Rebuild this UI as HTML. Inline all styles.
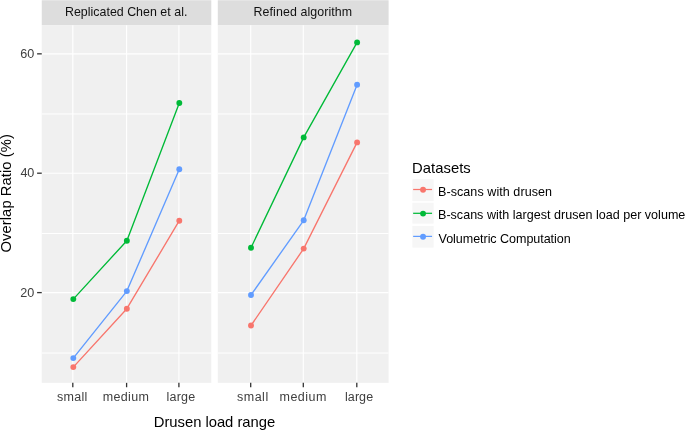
<!DOCTYPE html>
<html><head><meta charset="utf-8"><title>Overlap Ratio</title>
<style>html,body{margin:0;padding:0;background:#fff;overflow:hidden}svg{display:block}text{font-family:"Liberation Sans",Arial,sans-serif;white-space:pre}</style></head><body>
<svg width="685" height="430" viewBox="0 0 685 430">
<rect x="0" y="0" width="685" height="430" fill="#fff"/>
<rect x="41.75" y="0.25" width="169.55" height="25.05" fill="#DDDDDD"/>
<rect x="41.75" y="25.3" width="169.55" height="357.55" fill="#F0F0F0"/>
<line x1="41.75" x2="211.3" y1="353.0" y2="353.0" stroke="#fff" stroke-width="1.0"/>
<line x1="41.75" x2="211.3" y1="233.5" y2="233.5" stroke="#fff" stroke-width="1.0"/>
<line x1="41.75" x2="211.3" y1="113.95" y2="113.95" stroke="#fff" stroke-width="1.0"/>
<line x1="41.75" x2="211.3" y1="292.65" y2="292.65" stroke="#fff" stroke-width="1.15"/>
<line x1="41.75" x2="211.3" y1="173.25" y2="173.25" stroke="#fff" stroke-width="1.15"/>
<line x1="41.75" x2="211.3" y1="53.9" y2="53.9" stroke="#fff" stroke-width="1.15"/>
<line x1="72.80" x2="72.80" y1="25.3" y2="382.85" stroke="#fff" stroke-width="1.15"/>
<line x1="72.80" x2="72.80" y1="382.85" y2="387.25" stroke="#333" stroke-width="1.3"/>
<line x1="126.60" x2="126.60" y1="25.3" y2="382.85" stroke="#fff" stroke-width="1.15"/>
<line x1="126.60" x2="126.60" y1="382.85" y2="387.25" stroke="#333" stroke-width="1.3"/>
<line x1="178.90" x2="178.90" y1="25.3" y2="382.85" stroke="#fff" stroke-width="1.15"/>
<line x1="178.90" x2="178.90" y1="382.85" y2="387.25" stroke="#333" stroke-width="1.3"/>
<polyline points="73.30,367.10 126.85,308.70 179.30,220.70" fill="none" stroke="#F8766D" stroke-width="1.35" stroke-linejoin="round"/>
<polyline points="73.30,299.10 126.85,240.70 179.30,103.00" fill="none" stroke="#00BA38" stroke-width="1.35" stroke-linejoin="round"/>
<polyline points="73.30,358.10 126.85,291.10 179.30,169.20" fill="none" stroke="#619CFF" stroke-width="1.35" stroke-linejoin="round"/>
<circle cx="73.30" cy="367.10" r="2.95" fill="#F8766D"/>
<circle cx="126.85" cy="308.70" r="2.95" fill="#F8766D"/>
<circle cx="179.30" cy="220.70" r="2.95" fill="#F8766D"/>
<circle cx="73.30" cy="299.10" r="2.95" fill="#00BA38"/>
<circle cx="126.85" cy="240.70" r="2.95" fill="#00BA38"/>
<circle cx="179.30" cy="103.00" r="2.95" fill="#00BA38"/>
<circle cx="73.30" cy="358.10" r="2.95" fill="#619CFF"/>
<circle cx="126.85" cy="291.10" r="2.95" fill="#619CFF"/>
<circle cx="179.30" cy="169.20" r="2.95" fill="#619CFF"/>
<rect x="217.8" y="0.25" width="170.80" height="25.05" fill="#DDDDDD"/>
<rect x="217.8" y="25.3" width="170.80" height="357.55" fill="#F0F0F0"/>
<line x1="217.8" x2="388.6" y1="353.0" y2="353.0" stroke="#fff" stroke-width="1.0"/>
<line x1="217.8" x2="388.6" y1="233.5" y2="233.5" stroke="#fff" stroke-width="1.0"/>
<line x1="217.8" x2="388.6" y1="113.95" y2="113.95" stroke="#fff" stroke-width="1.0"/>
<line x1="217.8" x2="388.6" y1="292.65" y2="292.65" stroke="#fff" stroke-width="1.15"/>
<line x1="217.8" x2="388.6" y1="173.25" y2="173.25" stroke="#fff" stroke-width="1.15"/>
<line x1="217.8" x2="388.6" y1="53.9" y2="53.9" stroke="#fff" stroke-width="1.15"/>
<line x1="250.70" x2="250.70" y1="25.3" y2="382.85" stroke="#fff" stroke-width="1.15"/>
<line x1="250.70" x2="250.70" y1="382.85" y2="387.25" stroke="#333" stroke-width="1.3"/>
<line x1="303.30" x2="303.30" y1="25.3" y2="382.85" stroke="#fff" stroke-width="1.15"/>
<line x1="303.30" x2="303.30" y1="382.85" y2="387.25" stroke="#333" stroke-width="1.3"/>
<line x1="356.80" x2="356.80" y1="25.3" y2="382.85" stroke="#fff" stroke-width="1.15"/>
<line x1="356.80" x2="356.80" y1="382.85" y2="387.25" stroke="#333" stroke-width="1.3"/>
<polyline points="251.00,325.50 303.70,248.60 357.10,142.40" fill="none" stroke="#F8766D" stroke-width="1.35" stroke-linejoin="round"/>
<polyline points="251.00,247.70 303.70,137.40 357.10,42.40" fill="none" stroke="#00BA38" stroke-width="1.35" stroke-linejoin="round"/>
<polyline points="251.00,295.00 303.70,220.30 357.10,84.70" fill="none" stroke="#619CFF" stroke-width="1.35" stroke-linejoin="round"/>
<circle cx="251.00" cy="325.50" r="2.95" fill="#F8766D"/>
<circle cx="303.70" cy="248.60" r="2.95" fill="#F8766D"/>
<circle cx="357.10" cy="142.40" r="2.95" fill="#F8766D"/>
<circle cx="251.00" cy="247.70" r="2.95" fill="#00BA38"/>
<circle cx="303.70" cy="137.40" r="2.95" fill="#00BA38"/>
<circle cx="357.10" cy="42.40" r="2.95" fill="#00BA38"/>
<circle cx="251.00" cy="295.00" r="2.95" fill="#619CFF"/>
<circle cx="303.70" cy="220.30" r="2.95" fill="#619CFF"/>
<circle cx="357.10" cy="84.70" r="2.95" fill="#619CFF"/>
<line x1="37.1" x2="41.75" y1="292.59999999999997" y2="292.59999999999997" stroke="#333" stroke-width="1.3"/>
<line x1="37.1" x2="41.75" y1="173.2" y2="173.2" stroke="#333" stroke-width="1.3"/>
<line x1="37.1" x2="41.75" y1="53.85" y2="53.85" stroke="#333" stroke-width="1.3"/>
<text x="65.00" y="16.0" font-size="12.4" fill="#111111" letter-spacing="0.015">Replicated Chen et <tspan x="174.25">al.</tspan></text>
<text x="253.50" y="16.0" font-size="12.4" fill="#111111" letter-spacing="0.094">Refined algorithm</text>
<text x="57.00" y="401.0" font-size="12.5" fill="#404040" letter-spacing="0.300">small</text>
<text x="102.75" y="401.0" font-size="12.5" fill="#404040" letter-spacing="0.350">medium</text>
<text x="166.50" y="401.0" font-size="12.5" fill="#404040" letter-spacing="0.200">large</text>
<text x="237.00" y="401.0" font-size="12.5" fill="#404040" letter-spacing="0.500">small</text>
<text x="279.50" y="401.0" font-size="12.5" fill="#404040" letter-spacing="0.470">medium</text>
<text x="345.00" y="401.0" font-size="12.5" fill="#404040" letter-spacing="0.075">large</text>
<text x="20.25" y="58.3" font-size="12.6" fill="#404040" letter-spacing="-0.000">60</text>
<text x="20.50" y="176.9" font-size="12.6" fill="#404040" letter-spacing="-0.250">40</text>
<text x="20.25" y="297.1" font-size="12.6" fill="#404040" letter-spacing="-0.000">20</text>
<text x="153.75" y="426.7" font-size="14.8" fill="#000" letter-spacing="-0.019">Drusen load range</text>
<text x="412.00" y="173.2" font-size="14.8" fill="#000" letter-spacing="0.050">Datasets</text>
<text x="438.00" y="195.6" font-size="12.55" fill="#000" letter-spacing="0.058">B-scans with drusen</text>
<text x="438.00" y="219.0" font-size="12.55" fill="#000" letter-spacing="0.011">B-scans with largest drusen load per volume</text>
<text x="438.50" y="242.5" font-size="12.55" fill="#000" letter-spacing="-0.048">Volumetric Computation</text>
<text transform="translate(10.9,252.50) rotate(-90)" font-size="14.8" fill="#000" letter-spacing="0.053">Overlap Ratio (%)</text>
<rect x="412.4" y="179.2" width="21.2" height="21.90" fill="#F6F6F6"/>
<line x1="413.15" x2="432.05" y1="189.50" y2="189.50" stroke="#F8766D" stroke-width="1.25"/>
<circle cx="423.05" cy="189.80" r="2.95" fill="#F8766D"/>
<rect x="412.4" y="202.8" width="21.2" height="20.80" fill="#F6F6F6"/>
<line x1="413.15" x2="432.05" y1="213.30" y2="213.30" stroke="#00BA38" stroke-width="1.25"/>
<circle cx="423.05" cy="213.60" r="2.95" fill="#00BA38"/>
<rect x="412.4" y="226.0" width="21.2" height="21.60" fill="#F6F6F6"/>
<line x1="413.15" x2="432.05" y1="236.40" y2="236.40" stroke="#619CFF" stroke-width="1.25"/>
<circle cx="423.05" cy="236.70" r="2.95" fill="#619CFF"/>
</svg></body></html>
